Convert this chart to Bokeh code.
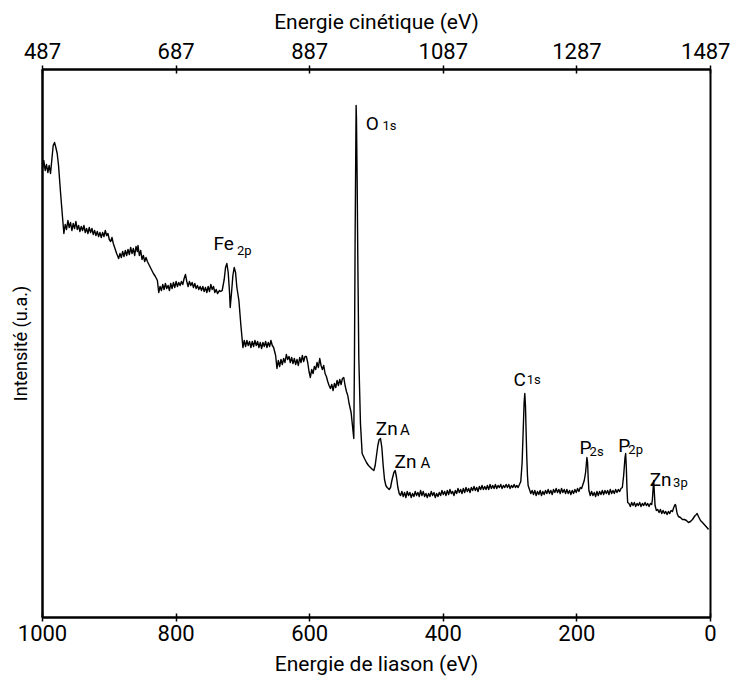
from bokeh.plotting import figure
from bokeh.models import Range1d, LinearAxis, FixedTicker, Label
from bokeh.embed import file_html
from bokeh.resources import INLINE

# ---- data: (binding energy eV, intensity a.u.) ----
seg_start = [(1000,449),(998,457),(996,447),(994,453),(992,445),(990,452),(988,444),(986,458),
             (984,472),(982,475),(980,470),(978,464),(976,452),(973,425),(970,400),(968,384)]
plateau_1 = [(966,393),(964,388),(962,397),(960,390),(958,395),(956,387),(954,394),(952,389),
             (950,396),(948,388),(946,392),(944,386),(942,391),(940,387),(938,392),(936,385),
             (934,389),(932,384),(930,390),(928,385),(926,389),(924,383),(922,387),(920,382),
             (918,386),(916,381),(914,385),(912,380),(910,385),(908,381),(906,387),(904,382),
             (902,384),(900,378),(898,376),(896,380),(894,374),(892,370),(889,364),(886,359)]
plateau_2 = [(884,364),(882,360),(880,366),(878,361),(876,367),(874,362),(872,368),(870,363),
             (868,370),(866,364),(864,369),(862,362),(860,371),(858,366),(857,372),(855,362),
             (853,367),(851,358),(849,362),(847,356),(845,360),(843,356),(840,352),(837,348),
             (834,344),(831,341),(828,337),(826,325)]
plateau_3 = [(824,331),(822,327),(820,333),(818,328),(816,334),(814,329),(812,332),(810,327),
             (808,334),(806,329),(804,335),(802,330),(800,336),(798,331),(796,335),(794,332),
             (792,336),(790,333),(788,339),(786,343),(784,336),(782,331),(780,336),(778,332),
             (776,335),(774,330),(772,334),(770,329),(768,332),(766,328),(764,331),(762,327),
             (760,331),(758,326),(756,330),(754,325),(752,331),(750,326),(748,333),(746,328),
             (744,331),(742,325),(740,328),(738,324),(735,327),(733,326)]
fe_2p = [(731,327),(728,338),(726,350),(724,354),(722,345),(720,325),(719,310),(717,325),
         (715,342),(713,350),(711,345),(709,330),(706,317),(703,292),(700,270)]
plateau_4 = [(698,277),(696,271),(694,277),(692,272),(690,276),(688,270),(686,276),(684,271),
             (682,277),(680,272),(678,276),(676,270),(674,275),(672,269),(670,275),(668,271),
             (666,276),(664,270),(662,275),(660,271),(658,277),(656,272),(654,270),(651,262)]
plateau_5 = [(649,249),(647,257),(645,251),(643,258),(641,253),(639,259),(637,255),(635,263),
             (633,258),(631,261),(629,255),(627,260),(625,254),(623,259),(621,253),(619,258),
             (617,252),(615,260),(613,255),(611,262),(609,256),(607,261),(605,261),(603,255),
             (601,246),(599,240),(597,248),(595,244),(593,251),(591,248),(589,255),(587,250),
             (585,259),(583,252),(581,248),(579,252),(577,244),(575,241),(573,236),(571,232),
             (569,229),(567,233),(565,227),(563,234),(561,230),(559,237),(557,232),(555,238),
             (553,233),(551,239),(549,240),(547,232),(545,226),(543,222),(541,214),(538,205),
             (536,192),(534,179)]
o_1s = [(533,260),(532,380),(531,470),(530.5,512),(530,500),(529,440),(528,360),(526.5,260),
        (524,194),(521.5,164)]
zn_auger = [(518,159),(515,155),(512,152),(509,150),(506,148),(504,147),(502,152),(500,162),
            (498,172),(496,178),(494,179),(492,170),(490,152),(488,138),(486,132),(484,130),
            (481,128),(479,130),(477,137),(474,145),(472,147),(470,140),(468,130),(466,124),
            (464,122)]
baseline_1 = [(462,126),(460,121),(458,125),(456,120),(454,126),(452,122),(450,125),(448,120),
              (446,124),(444,121),(442,126),(440,122),(438,125),(436,121),(434,127),(432,122),
              (430,126),(428,121),(426,124),(424,120),(422,124),(420,121),(418,126),(416,122),
              (414,125),(412,120),(410,124),(408,121),(406,125),(404,122),(402,127),(400,123),
              (398,126),(396,122),(394,127),(392,123),(390,128),(388,124),(386,126),(384,122),
              (382,127),(380,124),(378,129),(376,125),(374,128),(372,124),(370,129),(368,125),
              (366,130),(364,126),(362,129),(360,125),(358,130),(356,127),(354,131),(352,127),
              (350,130),(348,126),(346,131),(344,128),(342,132),(340,128),(338,131),(336,128),
              (334,132),(332,128),(330,133),(328,129),(326,132),(324,129),(322,133),(320,129),
              (318,132),(316,130),(314,133),(312,129),(310,132),(308,130),(306,133),(304,130),
              (302,133),(300,129),(298,132),(296,130),(294,133),(292,130),(290,132),(288,130),
              (286,133)]
c_1s = [(284,136),(282,155),(280,195),(279,215),(278,224),(277,212),(276,185),(275,160),
        (274,142),(273,132),(271,128)]
baseline_2 = [(269,124),(267,127),(265,123),(263,127),(261,122),(259,126),(257,123),(255,127),
              (253,122),(251,126),(249,123),(247,127),(245,124),(243,128),(241,124),(239,127),
              (237,123),(235,128),(233,125),(231,129),(229,125),(227,128),(225,124),(223,129),
              (221,125),(219,128),(217,124),(215,128),(213,124),(211,127),(209,123),(207,127),
              (205,124),(203,128),(201,125),(199,129),(197,126),(195,130),(193,129),(191,133)]
p_2s = [(189,137),(187,145),(185,160),(184,155),(183,138),(182,127),(180,122)]
baseline_3 = [(178,126),(176,122),(174,125),(172,121),(170,126),(168,122),(166,126),(164,123),
              (162,127),(160,123),(158,127),(156,124),(154,127),(152,123),(150,128),(148,124),
              (146,127),(144,124),(142,128),(140,125),(138,128),(136,126),(134,129),(132,130)]
p_2p = [(130,142),(128,160),(127,164),(126,150),(125,128),(124,115)]
baseline_4 = [(122,114),(120,111),(118,115),(116,112),(114,115),(112,111),(110,114),(108,112),
              (106,115),(104,111),(102,114),(100,112),(98,115),(96,112),(94,114),(92,111),
              (90,114),(88,113)]
zn_3p = [(87,118),(86,128),(85,137),(84,124),(83,112),(81,107)]
tail = [(79,108),(77,105),(75,108),(73,104),(71,107),(69,104),(67,106),(65,103),(63,106),
        (61,104),(59,107),(57,106),(55,110),(53,113),(52,112),(50,104),(48,101),(45,100),
        (42,98),(39,98),(36,97),(33,95),(30,96),(27,98),(25,100),(23,102),(21,103),(20,104),
        (18,101),(15,97),(12,95),(8,92),(4,89),(3,88)]

segments = [seg_start, plateau_1, plateau_2, plateau_3, fe_2p, plateau_4, plateau_5, o_1s,
            zn_auger, baseline_1, c_1s, baseline_2, p_2s, baseline_3, p_2p, baseline_4, zn_3p, tail]

binding_energy = [pt[0] for seg in segments for pt in seg]
intensity = [pt[1] for seg in segments for pt in seg]

be_ticks = [1000, 800, 600, 400, 200, 0]
ke_ticks = [487, 687, 887, 1087, 1287, 1487]

# peak labels: (main text, subscript text)
peak_names = [("Fe", "2p"), ("O", "1s"), ("Zn", "A"), ("Zn", "A"),
              ("C", "1s"), ("P", "2s"), ("P", "2p"), ("Zn", "3p")]

# ---- layout / styling ----
label_pos = [((744, 374), (709, 367)), ((516, 494), (491, 492)), ((501, 189), (465, 188)),
             ((473, 156), (434, 155)), ((295, 238), (275, 238)), ((196, 170), (181, 166)),
             ((138, 172), (123, 168)), ((91, 138), (56, 135))]

FONT = "Roboto"

p = figure(width=730, height=680, output_backend="svg", toolbar_location=None,
           x_range=Range1d(1000, 0), y_range=Range1d(0, 548),
           min_border_left=42, min_border_right=20, min_border_top=69, min_border_bottom=63)
p.background_fill_color = "white"
p.border_fill_color = "white"
p.grid.visible = False
p.outline_line_color = "black"
p.outline_line_width = 2

p.line(binding_energy, intensity, line_color="black", line_width=1.4, line_join="round")

# bottom axis
xa = p.xaxis[0]
xa.ticker = FixedTicker(ticks=be_ticks)
xa.axis_label = "Energie de liason (eV)"
xa.major_tick_in = 4
xa.major_tick_out = 4
xa.minor_tick_line_color = None
xa.axis_line_width = 2
xa.major_tick_line_width = 1.5
xa.major_label_standoff = 3
xa.axis_label_standoff = 8
xa.major_label_text_font = FONT
xa.major_label_text_font_size = "22px"
xa.major_label_text_color = "black"
xa.axis_label_text_font = FONT
xa.axis_label_text_font_size = "21px"
xa.axis_label_text_font_style = "normal"
xa.axis_label_text_color = "black"

# top axis (kinetic energy)
p.extra_x_ranges = {"ke": Range1d(487, 1487)}
ta = LinearAxis(x_range_name="ke", ticker=FixedTicker(ticks=ke_ticks),
                axis_label="Energie cinétique (eV)")
ta.major_tick_in = 4
ta.major_tick_out = 4
ta.minor_tick_line_color = None
ta.axis_line_width = 2
ta.major_tick_line_width = 1.5
ta.major_label_standoff = 7
ta.axis_label_standoff = 6
ta.major_label_text_font = FONT
ta.major_label_text_font_size = "22px"
ta.major_label_text_color = "black"
ta.axis_label_text_font = FONT
ta.axis_label_text_font_size = "21px"
ta.axis_label_text_font_style = "normal"
ta.axis_label_text_color = "black"
p.add_layout(ta, "above")

# left axis: label only
ya = p.yaxis[0]
ya.ticker = FixedTicker(ticks=[])
ya.major_tick_out = 0
ya.major_tick_in = 0
ya.minor_tick_line_color = None
ya.major_label_standoff = 0
ya.axis_line_width = 2
ya.axis_label = "Intensité (u.a.)"
ya.axis_label_standoff = 12
ya.axis_label_text_font = FONT
ya.axis_label_text_font_size = "18px"
ya.axis_label_text_font_style = "normal"
ya.axis_label_text_color = "black"

for (main, sub), ((mx, my), (sx, sy)) in zip(peak_names, label_pos):
    p.add_layout(Label(x=mx, y=my, text=main, text_font=FONT, text_font_size="19px",
                       text_align="left", text_baseline="alphabetic", text_color="black"))
    sub_size = "15px" if sub == "A" else "13px"
    p.add_layout(Label(x=sx, y=sy, text=sub, text_font=FONT, text_font_size=sub_size,
                       text_align="left", text_baseline="alphabetic", text_color="black"))

open("out.html", "w").write(file_html(p, INLINE))
